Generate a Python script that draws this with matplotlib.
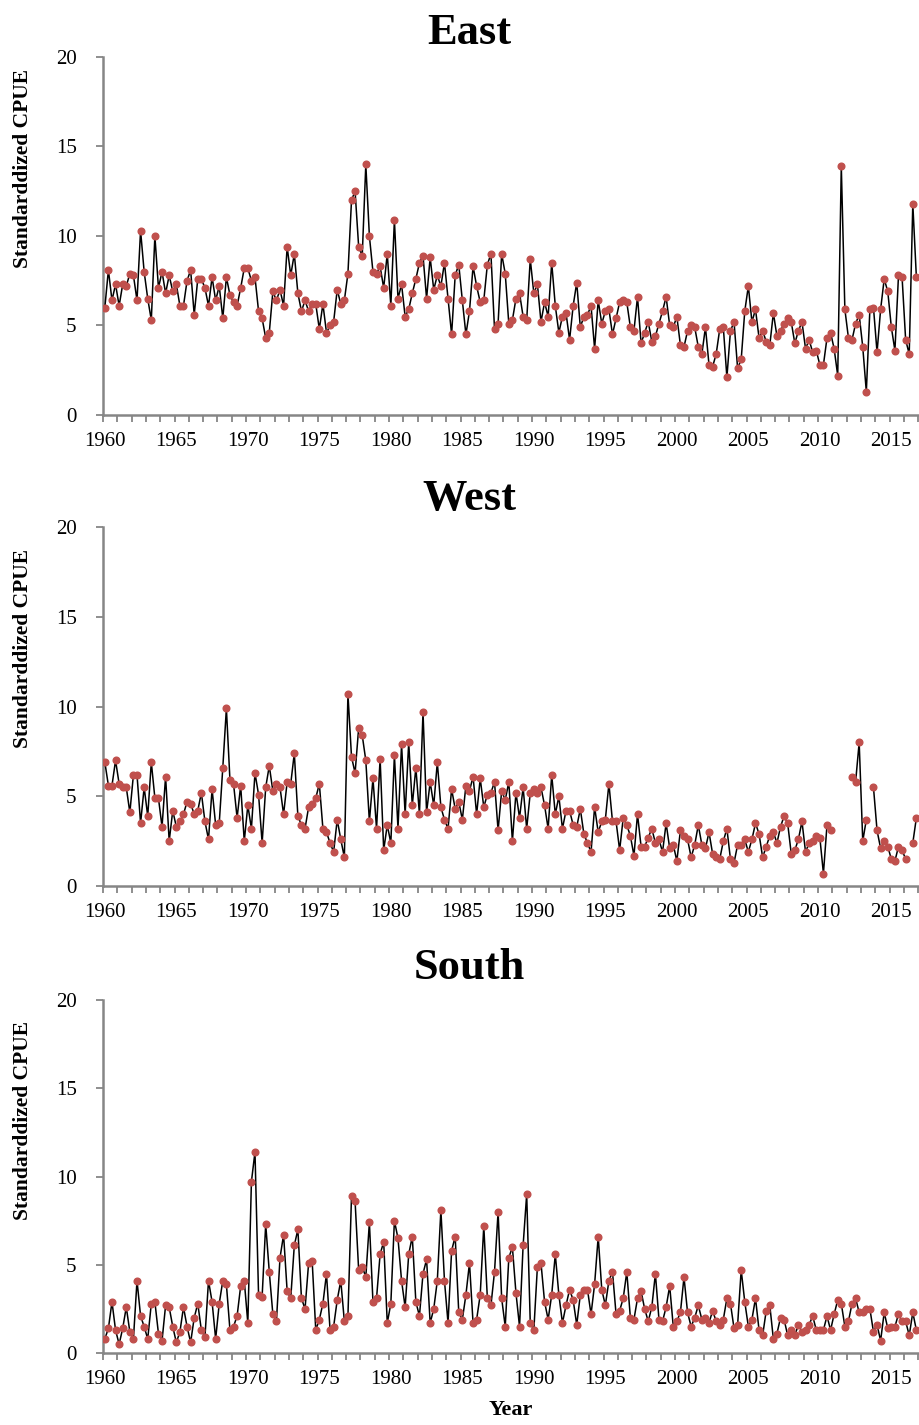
import numpy as np
import matplotlib
matplotlib.use('Agg')
import matplotlib.pyplot as plt
from matplotlib.ticker import FixedLocator, NullFormatter

# quarterly standardized CPUE, 1960 Q1 .. 2016 Q4
nan = np.nan
east = [6.0, 8.1, 6.4, 7.3, 6.1, 7.3, 7.2, 7.9, 7.8, 6.4,
        10.3, 8.0, 6.5, 5.3, 10.0, 7.1, 8.0, 6.8, 7.8, 6.9,
        7.3, 6.1, 6.1, 7.5, 8.1, 5.6, 7.6, 7.6, 7.1, 6.1,
        7.7, 6.4, 7.2, 5.4, 7.7, 6.7, 6.3, 6.1, 7.1, 8.2,
        8.2, 7.5, 7.7, 5.8, 5.4, 4.3, 4.6, 6.9, 6.4, 7.0,
        6.1, 9.4, 7.8, 9.0, 6.8, 5.8, 6.4, 5.8,
        6.2, 6.2, 4.8, 6.2, 4.6, 5.0, 5.2, 7.0, 6.2, 6.4,
        7.9, 12.0, 12.5, 9.4, 8.9, 14.0, 10.0, 8.0, 7.9, 8.3,
        7.1, 9.0, 6.1, 10.9, 6.5, 7.3, 5.5, 5.9, 6.8, 7.6,
        8.5, 8.9, 6.5, 8.8, 7.0, 7.8, 7.2, 8.5, 6.5, 4.5,
        7.8, 8.4, 6.4, 4.5, 5.8, 8.3, 7.2, 6.3, 6.4, 8.4,
        9.0, 4.8, 5.1, 9.0, 7.9, 5.1, 5.3, 6.5,
        6.8, 5.5, 5.3, 8.7, 6.8, 7.3, 5.2, 6.3, 5.5, 8.5,
        6.1, 4.6, 5.5, 5.7, 4.2, 6.1, 7.4, 4.9, 5.5, 5.6,
        6.1, 3.7, 6.4, 5.1, 5.8, 5.9, 4.5, 5.4, 6.3, 6.4,
        6.3, 4.9, 4.7, 6.6, 4.0, 4.6, 5.2, 4.1, 4.4, 5.1,
        5.8, 6.6, 5.0, 4.9, 5.5, 3.9, 3.8, 4.7, 5.0, 4.9,
        3.8, 3.4, 4.9, 2.8, 2.7, 3.4, 4.8,
        4.9, 2.1, 4.7, 5.2, 2.6, 3.1, 5.8, 7.2, 5.2, 5.9,
        4.3, 4.7, 4.1, 3.9, 5.7, 4.4, 4.7, 5.1, 5.4, 5.2,
        4.0, 4.7, 5.2, 3.7, 4.2, 3.5, 3.6, 2.8, 2.8, 4.3,
        4.6, 3.7, 2.2, 13.9, 5.9, 4.3, 4.2, 5.1, 5.6, 3.8,
        1.3, 5.9, 6.0, 3.5, 5.9, 7.6, 6.9, 4.9, 3.6, 7.8,
        7.7, 4.2, 3.4, 11.8, 7.7]
west = [6.9, 5.6, 5.6, 7.0, 5.7, 5.5, 5.5, 4.1, 6.2, 6.2,
        3.5, 5.5, 3.9, 6.9, 4.9, 4.9, 3.3, 6.1, 2.5, 4.2,
        3.3, 3.6, 4.0, 4.7, 4.6, 4.0, 4.2, 5.2, 3.6, 2.6,
        5.4, 3.4, 3.5, 6.6, 9.9, 5.9, 5.7, 3.8, 5.6, 2.5,
        4.5, 3.2, 6.3, 5.1, 2.4, 5.5, 6.7, 5.3, 5.7, 5.5,
        4.0, 5.8, 5.7, 7.4, 3.9, 3.4, 3.2, 4.4,
        4.6, 4.9, 5.7, 3.2, 3.0, 2.4, 1.9, 3.7, 2.6, 1.6,
        10.7, 7.2, 6.3, 8.8, 8.4, 7.0, 3.6, 6.0, 3.2, 7.1,
        2.0, 3.4, 2.4, 7.3, 3.2, 7.9, 4.0, 8.0, 4.5, 6.6,
        4.0, 9.7, 4.1, 5.8, 4.5, 6.9, 4.4, 3.7, 3.2, 5.4,
        4.3, 4.7, 3.7, 5.6, 5.3, 6.1, 4.0, 6.0, 4.4, 5.1,
        5.2, 5.8, 3.1, 5.3, 4.8, 5.8, 2.5, 5.2,
        3.8, 5.5, 3.2, 5.2, 5.4, 5.2, 5.5, 4.5, 3.2, 6.2,
        4.0, 5.0, 3.2, 4.2, 4.2, 3.4, 3.3, 4.3, 2.9, 2.4,
        1.9, 4.4, 3.0, 3.6, 3.7, 5.7, 3.6, 3.6, 2.0, 3.8,
        3.4, 2.8, 1.7, 4.0, 2.2, 2.2, 2.7, 3.2, 2.4, 2.6,
        1.9, 3.5, 2.1, 2.3, 1.4, 3.1, 2.8, 2.6, 1.6, 2.3,
        3.4, 2.3, 2.1, 3.0, 1.8, 1.6,
        1.5, 2.5, 3.2, 1.5, 1.3, 2.3, 2.3, 2.6, 1.9, 2.6,
        3.5, 2.9, 1.6, 2.2, 2.8, 3.0, 2.4, 3.3, 3.9, 3.5,
        1.8, 2.0, 2.6, 3.6, 1.9, 2.4, 2.5, 2.8, 2.7, 0.7,
        3.4, 3.1,
        nan, nan, nan, nan, nan,
        6.1, 5.8, 8.0, 2.5, 3.7,
        nan,
        5.5, 3.1, 2.1, 2.5, 2.2, 1.5, 1.4, 2.2, 2.0, 1.5,
        nan,
        2.4, 3.8]
south = [0.8, 1.4, 2.9, 1.3, 0.5, 1.4, 2.6, 1.2, 0.8, 4.1,
         2.1, 1.5, 0.8, 2.8, 2.9, 1.1, 0.7, 2.7, 2.6, 1.5,
         0.6, 1.2, 2.6, 1.5, 0.6, 2.0, 2.8, 1.3, 0.9, 4.1,
         2.9, 0.8, 2.8, 4.1, 3.9, 1.3, 1.5, 2.1, 3.8, 4.1,
         1.7, 9.7, 11.4, 3.3, 3.2, 7.3, 4.6, 2.2, 1.8, 5.4,
         6.7, 3.5, 3.1, 6.1, 7.0, 3.1, 2.5, 5.1,
         5.2, 1.3, 1.9, 2.8, 4.5, 1.3, 1.5, 3.0, 4.1, 1.8,
         2.1, 8.9, 8.6, 4.7, 4.9, 4.3, 7.4, 2.9, 3.1, 5.6,
         6.3, 1.7, 2.8, 7.5, 6.5, 4.1, 2.6, 5.6, 6.6, 2.9,
         2.1, 4.5, 5.3, 1.7, 2.5, 4.1, 8.1, 4.1, 1.7, 5.8,
         6.6, 2.3, 1.9, 3.3, 5.1, 1.7, 1.9, 3.3, 7.2, 3.1,
         2.7, 4.6, 8.0, 3.1, 1.5, 5.4, 6.0, 3.4,
         1.5, 6.1, 9.0, 1.7, 1.3, 4.9, 5.1, 2.9, 1.9, 3.3,
         5.6, 3.3, 1.7, 2.7, 3.6, 3.0, 1.6, 3.3, 3.6, 3.6,
         2.2, 3.9, 6.6, 3.6, 2.7, 4.1, 4.6, 2.2, 2.4, 3.1,
         4.6, 2.0, 1.9, 3.1, 3.5, 2.5, 1.8, 2.6, 4.5, 1.9,
         1.8, 2.6, 3.8, 1.5, 1.8, 2.3, 4.3, 2.3, 1.5, 2.0,
         2.7, 1.9, 2.0, 1.7, 2.4, 1.8,
         1.6, 1.9, 3.1, 2.8, 1.4, 1.6, 4.7, 2.9, 1.5, 1.9,
         3.1, 1.3, 1.0, 2.4, 2.7, 0.8, 1.1, 2.0, 1.9, 1.0,
         1.3, 1.0, 1.6, 1.2, 1.3, 1.6, 2.1, 1.3, 1.3, 1.3,
         2.1, 1.3, 2.2, 3.0, 2.8, 1.5, 1.8, 2.8, 3.1, 2.3,
         2.3, 2.5, 2.5, 1.2, 1.6, 0.7, 2.3, 1.4, 1.5, 1.5,
         2.2, 1.8, 1.8, 1.0, 2.3, 1.3]

regions = ['East', 'West', 'South']
series = [east, west, south]
year_labels = list(range(1960, 2016, 5))

t = 1960 + np.arange(len(east)) / 4.0

plt.rcParams['font.family'] = ['Liberation Serif', 'DejaVu Serif']
grey = '#868686'
red = '#C0504D'

fig = plt.figure(figsize=(9.2, 14.25), dpi=100)

# axes rectangles (fig coords) and text positions, from the reference layout
boxes = [[0.112, 0.7088, 0.886, 0.2512],
         [0.112, 0.3782, 0.886, 0.2519],
         [0.112, 0.0505, 0.886, 0.2477]]
title_y = [0.977, 0.6495, 0.3205]
ylab_y = [0.882, 0.545, 0.214]

for k in range(3):
    ax = fig.add_axes(boxes[k])
    ax.plot(t, series[k], color='black', lw=1.1, marker='o', ms=4.8,
            mfc=red, mec=red, zorder=3)
    ax.set_xlim(1960 - 0.125, 1960 - 0.125 + 57)
    ax.set_ylim(0, 20)
    ax.set_yticks([0, 5, 10, 15, 20])
    ax.set_xticks(year_labels)
    ax.set_xticklabels([str(y) for y in year_labels])
    ax.xaxis.set_minor_locator(FixedLocator(1960 - 0.125 + np.arange(58)))
    ax.xaxis.set_minor_formatter(NullFormatter())
    ax.tick_params(axis='x', which='major', length=0, pad=12, labelsize=15)
    ax.tick_params(axis='x', which='minor', length=5, width=1.3, color=grey,
                   direction='out')
    ax.tick_params(axis='y', length=5, width=1.3, color=grey, labelsize=15, pad=14)
    for s in ['top', 'right']:
        ax.spines[s].set_visible(False)
    for s in ['left', 'bottom']:
        ax.spines[s].set_color(grey)
        ax.spines[s].set_linewidth(1.8)

    fig.text(0.51, title_y[k], regions[k], ha='center', va='center',
             fontsize=32, fontweight='bold')
    fig.text(0.025, ylab_y[k], 'Standarddized CPUE', rotation=90,
             ha='center', va='center', fontsize=15.5, fontweight='bold')

fig.text(0.555, 0.0105, 'Year', ha='center', va='center', fontsize=16,
         fontweight='bold')

fig.savefig('out.png', dpi=100)
